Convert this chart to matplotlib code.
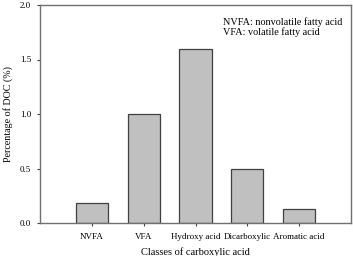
import numpy as np
import matplotlib.pyplot as plt

categories = ['NVFA', 'VFA', 'Hydroxy acid', 'Dicarboxylic', 'Aromatic acid']
values = [0.18, 1.0, 1.6, 0.5, 0.13]

plt.rcParams['font.family'] = 'Liberation Serif'

fig = plt.figure(figsize=(3.53, 2.56), dpi=100)
ax = fig.add_axes([40/353, 1 - 223/256, 311/353, 218/256])

x = np.arange(len(categories))
ax.bar(x, values, width=0.62, color='#c0c0c0', edgecolor='#404040', linewidth=0.9)

ax.set_xlim(-1, 5)
ax.set_ylim(0, 2.0)
ax.set_xticks(x)
ax.set_xticklabels(categories, fontsize=6.5)
ax.set_yticks([0.0, 0.5, 1.0, 1.5, 2.0])
ax.set_yticklabels(['0.0', '0.5', '1.0', '1.5', '2.0'], fontsize=6.5)
ax.tick_params(direction='out', length=2.5, width=0.8, color='#404040', labelcolor='black', pad=4)
ax.tick_params(axis='x', pad=4.5)
for s in ax.spines.values():
    s.set_color('#707070')
    s.set_linewidth(1.0)

ax.set_ylabel('Percentage of DOC (%)', fontsize=7.2, labelpad=5)
ax.set_xlabel('Classes of carboxylic acid', fontsize=7.5, labelpad=5)

ax.text(0.59, 0.945, 'NVFA: nonvolatile fatty acid\nVFA: volatile fatty acid',
        transform=ax.transAxes, fontsize=7.3, va='top', ha='left', linespacing=1.05)

fig.savefig('out.png', dpi=100)
